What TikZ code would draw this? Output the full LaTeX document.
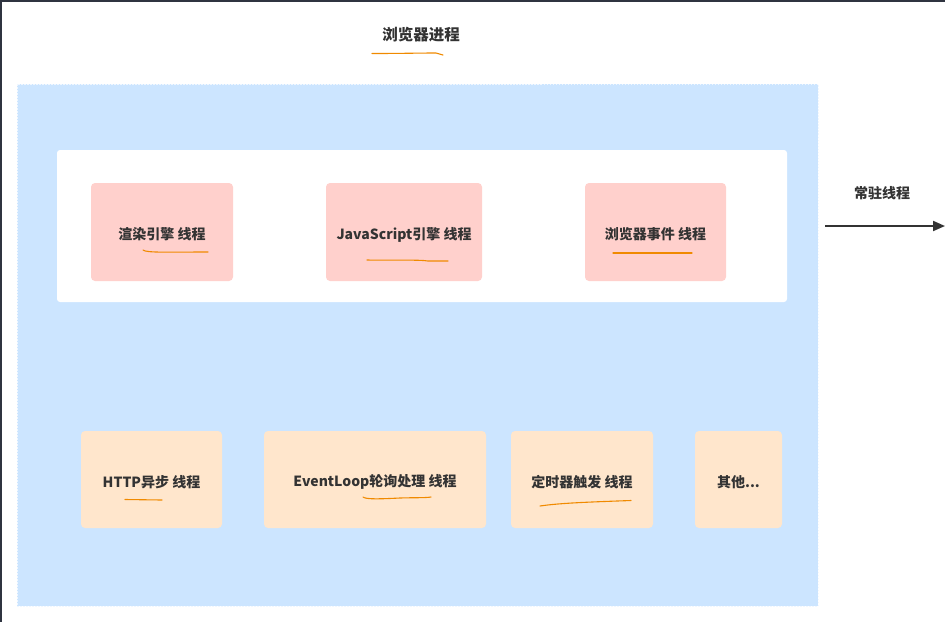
\documentclass[tikz,border=0pt]{standalone}
\usepackage{fontspec}
\setmainfont{Noto Sans CJK SC}
\usetikzlibrary{arrows.meta}
\definecolor{regionblue}{HTML}{CCE5FF}
\definecolor{pinkfill}{HTML}{FFD0CC}
\definecolor{peachfill}{HTML}{FFE6CC}
\definecolor{txt}{HTML}{333333}
\definecolor{uline}{HTML}{F08A00}
\definecolor{frame}{HTML}{2F3440}
\newcommand\lowered[1]{\raisebox{-2.5pt}[\height][\depth]{#1}}
\tikzset{
  region/.style={fill=regionblue, draw=white!70!regionblue, dashed, dash pattern=on 1.5pt off 1.5pt, line width=0.8pt},
  panel/.style={fill=white, rounded corners=3pt},
  thread/.style={rounded corners=4pt, inner sep=0pt, minimum height=98pt, font=\bfseries\fontsize{14}{16}\selectfont, text=txt},
  pinkbox/.style={thread, fill=pinkfill},
  peachbox/.style={thread, fill=peachfill, minimum height=97pt},
  label/.style={font=\bfseries\fontsize{14}{16}\selectfont, text=txt, inner sep=0pt},
  hand/.style={draw=uline, line width=1.1pt, line cap=round},
  link/.style={draw=txt, line width=2pt, -{Triangle[length=12pt,width=10pt]}}
}
\begin{document}
\begin{tikzpicture}[x=1pt,y=-1pt]
\useasboundingbox (0,0) rectangle (945,622);
\fill[white] (0,0) rectangle (945,622);
% screenshot frame
\fill[frame] (0,0) rectangle (945,2);
\fill[frame] (0,0) rectangle (2,622);
% title
\node[label, font=\bfseries\fontsize{15.5}{18}\selectfont] (title) at (421,35) {浏览器进程};
\draw[hand] (372,53.5) .. controls (400,53.5) and (420,53) .. (436,53) -- (443,55);
% process region
\path[region] (17,84) rectangle (818,606);
% resident panel
\path[panel] (57,150) rectangle (787,302);
% resident threads
\node[pinkbox, minimum width=142pt] (render) at (162,232) {\lowered{渲染引擎 线程}};
\node[pinkbox, minimum width=156pt] (js) at (404,232) {\lowered{JavaScript引擎 线程}};
\node[pinkbox, minimum width=141pt] (event) at (655.5,232) {\lowered{浏览器事件 线程}};
\draw[hand] (143,250) .. controls (146,253) and (170,252) .. (208,252);
\draw[hand] (367,260) .. controls (390,260.5) and (420,259.5) .. (428,261) -- (448,261);
\draw[hand] (613,253) -- (692,253);
% other threads
\node[peachbox, minimum width=141pt] (http) at (151.5,479.5) {\lowered{HTTP异步 线程}};
\node[peachbox, minimum width=222pt] (loop) at (375,479.5) {\lowered{EventLoop轮询处理 线程}};
\node[peachbox, minimum width=142pt] (timer) at (582,479.5) {\lowered{定时器触发 线程}};
\node[peachbox, minimum width=87pt] (other) at (738.5,479.5) {\lowered{其他...}};
\draw[hand] (125,499.5) -- (162,500);
\draw[hand] (363,497) .. controls (366,499.5) and (380,499) .. (400,498) .. controls (415,497.5) and (425,498) .. (431,497);
\draw[hand] (540,506) .. controls (560,503) and (590,502) .. (631,500.5);
% resident arrow
\node[label] (resident) at (882,193) {常驻线程};
\coordinate (arrowStart) at (825,226);
\coordinate (arrowEnd) at (945,226);
\draw[link] (arrowStart) -- (arrowEnd);
\end{tikzpicture}
\end{document}
